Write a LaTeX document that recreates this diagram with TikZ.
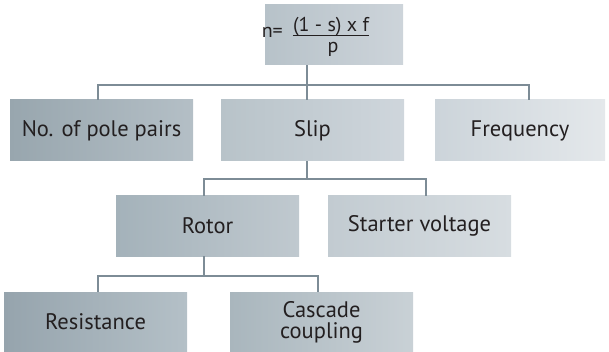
\documentclass[tikz,border=0pt]{standalone}
\usepackage{fontspec}
\setmainfont{PT Sans}
\usetikzlibrary{calc}
\definecolor{linec}{HTML}{7D8C96}
\definecolor{txt}{HTML}{231F20}
\tikzset{
  box/.style={rectangle, inner sep=0pt, minimum width=183pt, minimum height=60pt,
    text=txt, font=\fontsize{22.5}{21}\selectfont, align=center},
  ftxt/.style={text=txt, font=\fontsize{20}{22}\selectfont, inner sep=0pt},
  conn/.style={draw=linec, line width=1.8pt},
}
\begin{document}
\begin{tikzpicture}[x=1pt,y=-1pt]
\useasboundingbox (0,0) rectangle (609,352);
% boxes
\node[box, minimum width=138pt, left color={rgb,255:red,183;green,194;blue,201}, right color={rgb,255:red,205;green,212;blue,218}] (top) at (334,35) {};
\node[ftxt, anchor=base east] (neq) at (283,38) {n=};
\node[ftxt, anchor=base] (num) at (331,32) {(1 - s) x f};
\node[ftxt, anchor=base] (den) at (333,53) {p};
\draw[txt, line width=1.1pt] ($(num.base west)+(0,3.5)$) -- ($(num.base east)+(0,3.5)$);

\node[box, minimum height=61pt, left color={rgb,255:red,152;green,166;blue,174}, right color={rgb,255:red,180;green,191;blue,198}] (no) at (101.5,130.5) {No. of pole pairs};
\node[box, minimum height=61pt, left color={rgb,255:red,184;green,195;blue,201}, right color={rgb,255:red,207;green,214;blue,220}] (slip) at (312.5,130.5) {Slip};
\node[box, minimum height=61pt, minimum width=170pt, left color={rgb,255:red,204;green,212;blue,218}, right color={rgb,255:red,228;green,232;blue,235}] (freq) at (520,130.5) {Frequency};

\node[box, left color={rgb,255:red,164;green,178;blue,186}, right color={rgb,255:red,192;green,201;blue,207}] (rotor) at (207.5,226) {Rotor};
\node[box, left color={rgb,255:red,194;green,203;blue,209}, right color={rgb,255:red,215;green,221;blue,225}] (starter) at (419.5,226) {Starter voltage};

\node[box, left color={rgb,255:red,150;green,164;blue,173}, right color={rgb,255:red,180;green,192;blue,199}] (res) at (95.5,322) {Resistance};
\node[box, left color={rgb,255:red,169;green,182;blue,189}, right color={rgb,255:red,201;green,209;blue,214}] (casc) at (321.5,322) {Cascade\\coupling};

% connectors
\coordinate (h1) at (307,85);
\coordinate (h2) at (307,179);
\coordinate (h3) at (204,276);
\draw[conn] (top.south -| h1) -- (slip.north -| h1);
\draw[conn] ($(no.north)+(-3.5,0)$) |- (h1) -| ($(freq.north)+(9,0)$);
\draw[conn] (slip.south -| h2) -- (h2);
\draw[conn] ($(rotor.north)+(-3.5,0)$) |- (h2) -| ($(starter.north)+(6.5,0)$);
\draw[conn] (rotor.south -| h3) -- (h3);
\draw[conn] ($(res.north)+(2.5,0)$) |- (h3) -| ($(casc.north)+(-3.5,0)$);
\end{tikzpicture}
\end{document}
